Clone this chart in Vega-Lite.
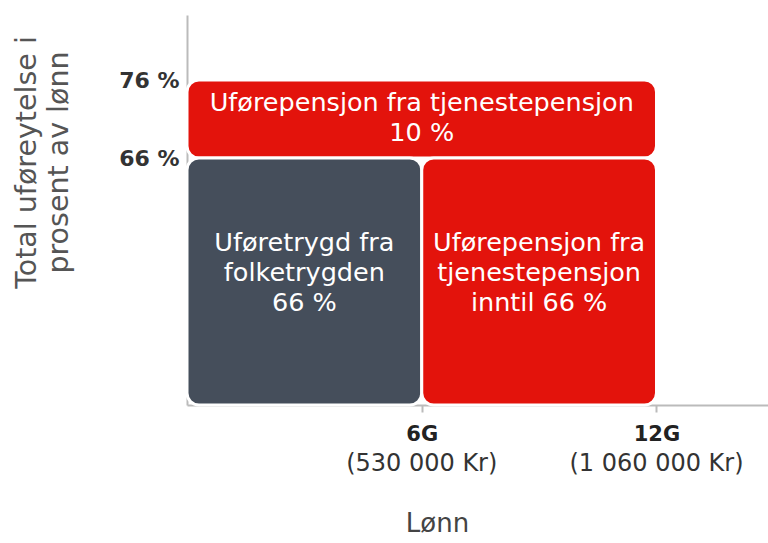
{
  "$schema": "https://vega.github.io/schema/vega-lite/v6.json",
  "width": 581,
  "height": 390,
  "autosize": "none",
  "padding": {"left": 187, "top": 15, "right": 0, "bottom": 138},
  "background": "white",
  "config": {"view": {"stroke": null}, "font": "DejaVu Sans"},
  "datasets": {
    "bars": [
      {"part": "Tjenestepensjon 10 %", "x0": 0, "x1": 12, "y0": 66, "y1": 76, "tx": 6, "ty": 73, "label": ["Uførepensjon fra tjenestepensjon", "10 %"]},
      {"part": "Folketrygd", "x0": 0, "x1": 6, "y0": 0, "y1": 66, "tx": 3, "ty": 43.3, "label": ["Uføretrygd fra", "folketrygden", "66 %"]},
      {"part": "Tjenestepensjon 66 %", "x0": 6, "x1": 12, "y0": 0, "y1": 66, "tx": 9, "ty": 43.3, "label": ["Uførepensjon fra", "tjenestepensjon", "inntil 66 %"]}
    ],
    "ticks": [
      {"x": 6, "kr": "(530 000 Kr)"},
      {"x": 12, "kr": "(1 060 000 Kr)"}
    ]
  },
  "layer": [
    {
      "data": {"name": "bars"},
      "mark": {"type": "rect", "cornerRadius": 12, "stroke": "white", "strokeWidth": 3},
      "encoding": {
        "x": {
          "field": "x0", "type": "quantitative", "title": "Lønn",
          "scale": {"domain": [0, 14.85], "nice": false, "zero": false},
          "axis": {
            "values": [6, 12],
            "labelExpr": "datum.value + 'G'",
            "labelFontWeight": "bold", "labelFontSize": 21, "labelColor": "#222",
            "labelPadding": 11, "tickSize": 7, "tickColor": "#bbb", "tickWidth": 2,
            "domainColor": "#bbb", "domainWidth": 2, "grid": false,
            "titleFontSize": 26, "titleFontWeight": "normal", "titleColor": "#444",
            "titleX": 250, "titleY": 118, "titleBaseline": "middle"
          }
        },
        "x2": {"field": "x1"},
        "y": {
          "field": "y0", "type": "quantitative", "title": ["Total uføreytelse i", "prosent av lønn"],
          "scale": {"domain": [0, 66, 76, 85], "range": [390, 143, 65, 0], "nice": false, "zero": false},
          "axis": {
            "values": [66, 76],
            "labelExpr": "datum.value + ' %'",
            "labelFontWeight": "bold", "labelFontSize": 22, "labelColor": "#333",
            "labelPadding": 8, "tickSize": 0, "domainColor": "#bbb", "domainWidth": 2, "grid": false,
            "titleFontSize": 28.5, "titleFontWeight": "normal", "titleColor": "#555",
            "titleX": -175, "titleY": 147, "titleAngle": -90, "titleBaseline": "top", "titleAlign": "center",
            "titleLineHeight": 32
          }
        },
        "y2": {"field": "y1"},
        "color": {
          "field": "part", "type": "nominal", "legend": null,
          "scale": {"domain": ["Tjenestepensjon 10 %", "Folketrygd", "Tjenestepensjon 66 %"], "range": ["#e3130c", "#454e5b", "#e3130c"]}
        }
      }
    },
    {
      "data": {"name": "bars"},
      "mark": {"type": "text", "color": "white", "fontSize": 25.5, "lineHeight": 30, "baseline": "middle", "align": "center"},
      "encoding": {
        "x": {"field": "tx", "type": "quantitative", "title": "Lønn"},
        "y": {"field": "ty", "type": "quantitative", "title": ["Total uføreytelse i", "prosent av lønn"]},
        "text": {"field": "label"}
      }
    },
    {
      "data": {"name": "ticks"},
      "mark": {"type": "text", "dy": 59, "fontSize": 24, "color": "#333", "baseline": "middle", "align": "center"},
      "encoding": {
        "x": {"field": "x", "type": "quantitative", "title": "Lønn"},
        "y": {"datum": 0},
        "text": {"field": "kr"}
      }
    }
  ]
}
